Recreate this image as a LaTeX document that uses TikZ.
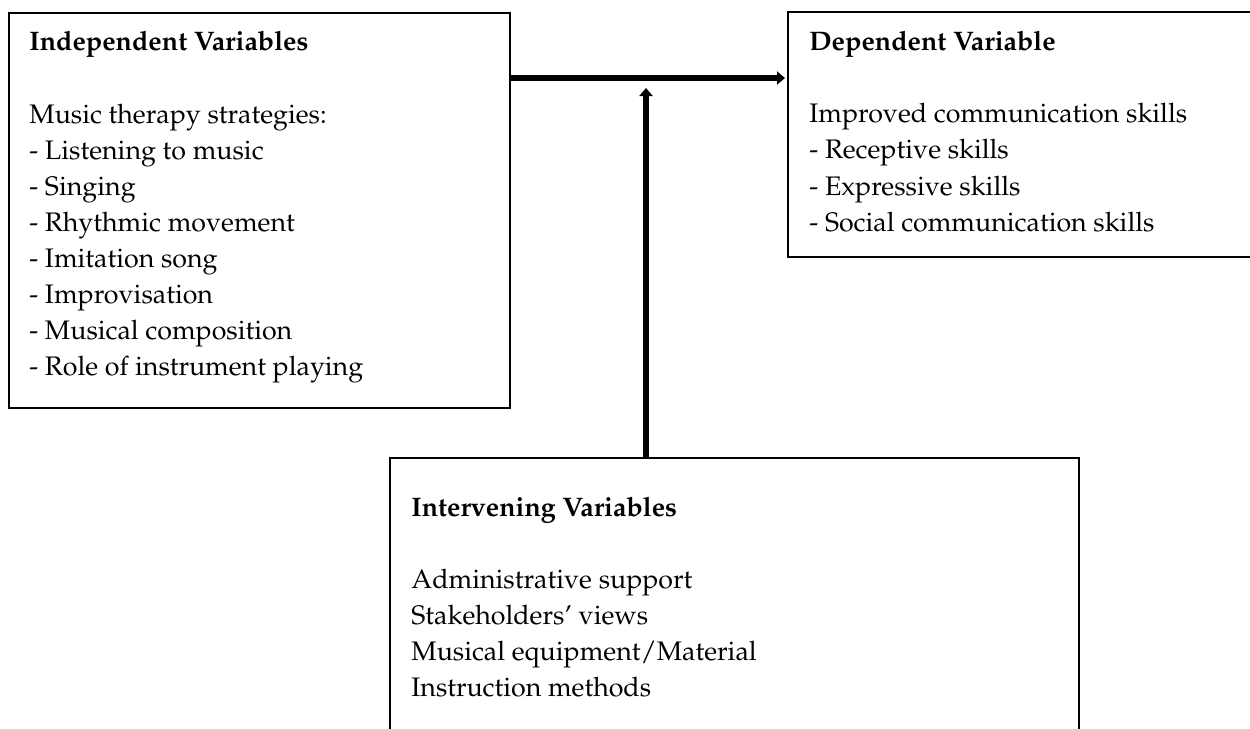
\documentclass[tikz,border=0pt]{standalone}
\usepackage[T1]{fontenc}
\renewcommand{\rmdefault}{ppl}
\usetikzlibrary{arrows.meta}
\begin{document}
\begin{tikzpicture}[x=0.5pt,y=-0.5pt,
  box/.style={draw=black,line width=0.6pt,inner sep=0pt,outer sep=0pt,anchor=north west},
  txt/.style={anchor=base west,inner sep=0pt,font=\fontsize{13.4}{16}\selectfont},
  ttl/.style={txt,font=\fontsize{13.4}{16}\selectfont\bfseries},
  arr/.style={line width=2.6pt,-{Triangle[length=4pt,width=6.5pt]}}]
\path[use as bounding box,clip] (0,0) rectangle (1250,729);
% boxes
\node[box,minimum width=250.5pt,minimum height=197.5pt] (iv) at (9,13) {};
\node[box,minimum width=240pt,minimum height=122.5pt] (dv) at (788,12) {};
\node[box,minimum width=344.5pt,minimum height=145pt] (inv) at (390,458) {};
% independent
\node[ttl] (ivt) at (29,50) {Independent Variables};
\node[txt] (iv1) at (29,123) {Music therapy strategies:};
\node[txt] (iv2) at (29,159) {- Listening to music};
\node[txt] (iv3) at (29,195) {- Singing};
\node[txt] (iv4) at (29,231) {- Rhythmic movement};
\node[txt] (iv5) at (29,267) {- Imitation song};
\node[txt] (iv6) at (29,303) {- Improvisation};
\node[txt] (iv7) at (29,339) {- Musical composition};
\node[txt] (iv8) at (29,375) {- Role of instrument playing};
% dependent
\node[ttl] (dvt) at (809,50) {Dependent Variable};
\node[txt] (dv1) at (809,122) {Improved communication skills};
\node[txt] (dv2) at (809,158) {- Receptive skills};
\node[txt] (dv3) at (809,195) {- Expressive skills};
\node[txt] (dv4) at (809,231) {- Social communication skills};
% intervening
\node[ttl] (invt) at (411,516) {Intervening Variables};
\node[txt] (in1) at (411,588) {Administrative support};
\node[txt] (in2) at (411,624) {Stakeholders' views};
\node[txt] (in3) at (411,660) {Musical equipment/Material};
\node[txt] (in4) at (411,696) {Instruction methods};
% connectors
\coordinate (j) at (646,78);
\draw[arr,shorten >=1.5pt] (iv.east |- j) -- (dv.west |- j);
\draw[arr,shorten >=5pt] (inv.north -| j) -- (j);
\end{tikzpicture}
\end{document}
